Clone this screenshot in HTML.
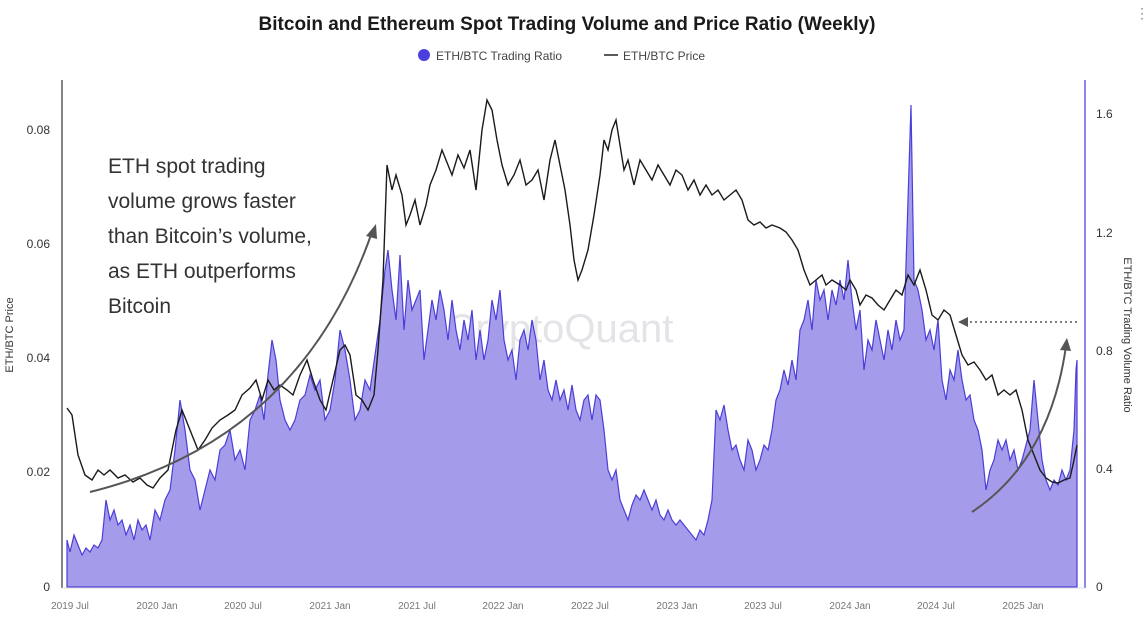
<!DOCTYPE html>
<html><head><meta charset="utf-8"><style>
body{margin:0;background:#fff;width:1146px;height:622px;overflow:hidden;font-family:"Liberation Sans",sans-serif}
</style></head><body>
<svg width="1146" height="622" xmlns="http://www.w3.org/2000/svg" font-family="Liberation Sans, sans-serif">
<text x="567" y="30" text-anchor="middle" font-size="19" font-weight="bold" fill="#1a1a1a">Bitcoin and Ethereum Spot Trading Volume and Price Ratio (Weekly)</text>
<circle cx="424" cy="55" r="6" fill="#4b3fe0"/>
<text x="436" y="60" font-size="12" fill="#444">ETH/BTC Trading Ratio</text>
<line x1="604" y1="55" x2="618" y2="55" stroke="#222" stroke-width="1.5"/>
<text x="623" y="60" font-size="12" fill="#444">ETH/BTC Price</text>
<text x="1135" y="18" font-size="14" fill="#888">⋮</text>
<text x="560" y="342" text-anchor="middle" font-size="40" fill="#e4e4e8">CryptoQuant</text>
<polygon fill="#9f97e9" fill-opacity="0.95" stroke="#4a3ed8" stroke-width="1.2" points="67,587 67,540 70,552 74,535 78,545 82,555 86,548 90,552 94,545 98,548 102,540 106,500 110,520 114,510 118,525 122,520 126,535 130,525 134,540 138,520 142,530 146,525 150,540 155,510 160,520 165,500 170,490 175,450 180,400 185,430 190,470 195,480 200,510 205,490 210,470 215,480 220,450 225,445 230,430 235,460 240,450 245,470 250,420 255,410 260,395 264,420 268,375 272,340 276,360 280,400 285,420 290,430 295,420 300,400 305,395 310,375 315,390 320,380 325,420 330,410 335,380 340,330 345,350 350,380 355,420 360,410 365,380 370,390 375,355 380,320 385,270 388,250 392,290 396,320 400,255 404,330 408,280 412,310 416,300 420,290 424,360 428,330 432,300 436,320 440,290 444,310 448,340 452,300 456,330 460,350 464,320 468,340 472,310 476,360 480,330 484,360 488,340 492,300 496,320 500,290 504,340 508,360 512,350 516,380 520,340 524,330 528,350 532,320 536,340 540,380 544,360 548,390 552,400 556,380 560,400 564,390 568,410 572,385 576,410 580,420 584,400 588,395 592,420 596,395 600,400 604,430 608,470 612,480 616,470 620,500 624,510 628,520 632,505 636,495 640,500 644,490 648,500 652,510 656,500 660,515 664,520 668,510 672,520 676,525 680,520 684,525 688,530 692,535 696,540 700,530 704,535 708,520 712,500 716,410 720,420 724,405 728,430 732,450 736,445 740,460 744,470 748,440 752,450 756,470 760,460 764,445 768,450 772,430 776,400 780,390 784,370 788,385 792,360 796,380 800,330 804,320 808,300 812,330 816,280 820,300 824,290 828,320 832,290 836,305 840,280 844,300 848,260 852,300 856,330 860,310 864,370 868,340 872,350 876,320 880,340 884,360 888,330 892,350 896,320 900,340 904,330 908,200 911,105 914,280 918,290 922,310 926,340 930,330 934,350 938,320 942,380 946,400 950,370 954,380 958,350 962,380 966,400 970,395 974,420 978,430 982,450 986,490 990,470 994,460 998,440 1002,450 1006,440 1010,460 1014,450 1018,470 1022,460 1026,445 1030,430 1034,380 1038,420 1042,460 1046,480 1050,490 1054,480 1058,485 1062,470 1066,480 1070,470 1074,430 1076,370 1077,360 1077,587"/>
<polyline fill="none" stroke="#1a1a1a" stroke-width="1.4" points="67,408 72,415 78,455 85,475 92,480 98,470 104,475 110,470 118,478 125,475 133,482 140,478 147,485 153,488 160,478 168,470 176,430 182,410 190,430 198,450 205,440 212,428 220,420 228,415 235,410 242,395 250,388 256,380 262,400 268,380 274,390 280,385 287,390 293,395 300,375 307,360 313,380 320,400 326,410 333,380 340,350 345,345 350,355 356,395 362,400 368,410 374,395 378,350 383,280 387,165 392,190 396,175 402,195 406,225 410,215 415,200 420,225 426,205 430,185 436,170 442,150 448,165 452,175 458,155 464,168 470,150 476,190 482,130 487,100 492,110 497,140 502,165 508,185 514,175 520,160 526,185 532,180 538,170 544,200 550,160 555,140 560,165 565,190 570,225 574,260 578,280 582,270 588,250 594,215 600,175 604,140 608,150 612,130 616,120 620,145 624,170 628,160 634,185 640,160 646,170 652,180 658,165 664,175 670,185 676,170 682,175 688,190 694,180 700,195 706,185 712,195 718,190 724,200 730,195 736,190 742,200 748,220 754,225 760,222 766,228 772,225 780,228 786,232 792,240 798,250 804,270 810,285 816,280 822,275 826,285 832,280 840,285 846,290 850,280 856,290 860,305 866,295 872,298 878,305 884,310 890,300 896,290 902,295 908,275 914,285 920,270 926,290 932,315 938,320 944,310 950,315 956,335 962,355 968,365 974,362 980,370 986,380 992,375 998,395 1004,390 1010,395 1016,390 1022,410 1028,440 1034,455 1040,470 1046,478 1052,482 1058,483 1064,480 1070,478 1074,460 1077,445"/>
<line x1="62" y1="80" x2="62" y2="588" stroke="#333" stroke-width="1.2"/>
<line x1="1085" y1="80" x2="1085" y2="588" stroke="#6a5fe6" stroke-width="1.5"/>
<line x1="62" y1="588" x2="1085" y2="588" stroke="#ddd"/>
<g font-size="12" fill="#333" text-anchor="end">
<text x="50" y="134">0.08</text><text x="50" y="248">0.06</text><text x="50" y="362">0.04</text><text x="50" y="476">0.02</text><text x="50" y="591">0</text>
</g>
<g font-size="12" fill="#333">
<text x="1096" y="118">1.6</text><text x="1096" y="237">1.2</text><text x="1096" y="355">0.8</text><text x="1096" y="473">0.4</text><text x="1096" y="591">0</text>
</g>
<text transform="translate(13,335) rotate(-90)" text-anchor="middle" font-size="11" fill="#333">ETH/BTC Price</text>
<text transform="translate(1124,335) rotate(90)" text-anchor="middle" font-size="11" fill="#333">ETH/BTC Trading Volume Ratio</text>
<g font-size="10" fill="#777" text-anchor="middle">
<text x="70" y="609">2019 Jul</text><text x="157" y="609">2020 Jan</text><text x="243" y="609">2020 Jul</text><text x="330" y="609">2021 Jan</text><text x="417" y="609">2021 Jul</text><text x="503" y="609">2022 Jan</text><text x="590" y="609">2022 Jul</text><text x="677" y="609">2023 Jan</text><text x="763" y="609">2023 Jul</text><text x="850" y="609">2024 Jan</text><text x="936" y="609">2024 Jul</text><text x="1023" y="609">2025 Jan</text>
</g>
<g font-size="21" fill="#333">
<text x="108" y="173">ETH spot trading</text>
<text x="108" y="208">volume grows faster</text>
<text x="108" y="243">than Bitcoin’s volume,</text>
<text x="108" y="278">as ETH outperforms</text>
<text x="108" y="313">Bitcoin</text>
</g>
<path d="M90,492 Q300,440 372,232" fill="none" stroke="#555" stroke-width="2"/>
<polygon points="376,224 366,236 377,239" fill="#555"/>
<path d="M972,512 Q1050,460 1066,346" fill="none" stroke="#555" stroke-width="2"/>
<polygon points="1067,338 1060,350 1071,351" fill="#555"/>
<line x1="1077" y1="322" x2="966" y2="322" stroke="#555" stroke-width="1.5" stroke-dasharray="2,3"/>
<polygon points="958,322 968,317 968,327" fill="#555"/>
</svg>
</body></html>
